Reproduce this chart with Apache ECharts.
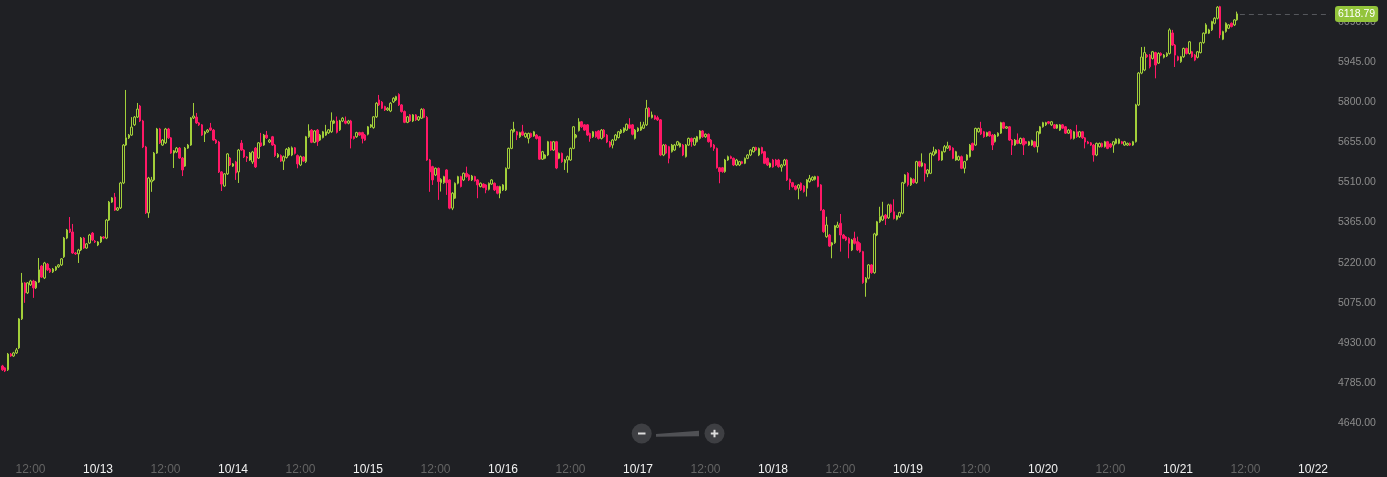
<!DOCTYPE html>
<html>
<head>
<meta charset="utf-8">
<script src="https://cdn.jsdelivr.net/npm/echarts@6/dist/echarts.min.js"></script>
<style>
html,body{margin:0;padding:0;background:#1f2024;}
#c{width:1387px;height:477px;}
</style>
</head>
<body>
<div id="c"></div>
<script>
// ---- data: 30-minute candles [open, close, low, high], first candle 10/12 07:00 (UTC) ----
const firstCandleTime = Date.UTC(2018, 9, 12, 7, 0);
const candleStepMs = 30 * 60 * 1000;
const axisStart = Date.UTC(2018, 9, 12, 6, 35);
const axisEnd = Date.UTC(2018, 9, 22, 3, 1);
const yMin = 4495, yMax = 6169, yStep = 145;
const labelHours = [0, 12];

const candles = [
[4847,4833,4829,4851],[4840,4829,4825,4843],[4833,4890,4829,4894],[4890,4883,4880,4894],[4883,4894,4880,4898],
[4894,4905,4890,4912],[4912,5017,4908,5020],[5017,5147,5013,5183],[5147,5111,5075,5150],[5111,5147,5107,5150],
[5140,5154,5136,5158],[5154,5129,5093,5158],[5129,5150,5125,5154],[5150,5194,5147,5237],[5208,5168,5165,5212],
[5165,5219,5161,5223],[5215,5194,5190,5219],[5197,5187,5183,5201],[5187,5197,5183,5201],[5194,5205,5190,5208],
[5205,5212,5201,5215],[5212,5234,5208,5237],[5241,5309,5237,5313],[5309,5338,5305,5342],[5342,5331,5327,5385],
[5331,5255,5252,5360],[5255,5252,5248,5259],[5252,5266,5219,5270],[5266,5309,5262,5313],[5309,5273,5270,5313],
[5273,5288,5270,5291],[5291,5320,5288,5324],[5327,5302,5298,5331],[5298,5295,5291,5302],[5284,5295,5280,5298],
[5295,5313,5291,5316],[5313,5309,5305,5316],[5309,5374,5305,5378],[5374,5439,5371,5443],[5439,5454,5436,5457],
[5457,5410,5407,5472],[5410,5418,5407,5421],[5418,5508,5414,5512],[5508,5645,5504,5649],[5645,5671,5642,5844],
[5671,5681,5667,5685],[5681,5710,5678,5746],[5718,5746,5714,5750],[5746,5775,5743,5797],[5786,5732,5728,5790],
[5732,5638,5634,5736],[5638,5400,5396,5642],[5400,5526,5382,5530],[5512,5519,5476,5530],[5519,5616,5515,5620],
[5616,5703,5613,5707],[5703,5653,5649,5707],[5645,5663,5642,5667],[5653,5703,5649,5707],[5703,5671,5667,5707],
[5671,5616,5613,5674],[5616,5624,5562,5627],[5620,5634,5616,5638],[5634,5598,5595,5638],[5598,5555,5533,5602],
[5569,5634,5566,5638],[5634,5645,5631,5649],[5645,5743,5642,5746],[5743,5750,5739,5797],[5746,5725,5721,5761],
[5725,5718,5714,5728],[5718,5681,5678,5721],[5685,5692,5656,5696],[5692,5699,5689,5703],[5707,5699,5696,5725],
[5699,5663,5660,5703],[5663,5653,5649,5667],[5656,5548,5544,5660],[5548,5504,5479,5551],[5497,5541,5494,5544],
[5541,5613,5537,5616],[5598,5573,5569,5602],[5569,5577,5566,5580],[5584,5544,5519,5588],[5548,5627,5508,5631],
// 10/14
[5652,5627,5624,5663],[5627,5602,5598,5630],[5602,5598,5584,5605],[5591,5616,5588,5620],[5584,5620,5577,5624],
[5634,5566,5562,5638],[5598,5653,5595,5656],[5653,5642,5638,5689],[5645,5681,5642,5685],[5681,5671,5667,5696],
[5656,5663,5652,5667],[5675,5645,5642,5678],[5645,5607,5602,5649],[5602,5611,5598,5616],[5607,5587,5584,5611],
[5587,5603,5555,5607],[5600,5630,5596,5634],[5609,5634,5605,5638],[5609,5635,5605,5640],[5635,5615,5611,5638],
[5607,5577,5561,5611],[5573,5603,5569,5607],[5602,5587,5584,5605],[5585,5675,5580,5678],[5675,5696,5671,5720],
[5699,5655,5652,5703],[5655,5696,5652,5699],[5699,5657,5642,5703],[5663,5681,5660,5685],[5672,5693,5669,5696],
[5681,5693,5678,5718],[5689,5700,5685,5703],[5693,5732,5689,5763],[5724,5732,5721,5736],[5732,5691,5687,5748],
[5700,5732,5696,5736],[5732,5742,5728,5746],[5732,5724,5720,5748],[5724,5732,5720,5736],[5732,5669,5633,5736],
[5675,5669,5665,5678],[5675,5690,5671,5693],[5690,5681,5678,5693],[5690,5669,5651,5693],[5681,5663,5660,5685],
[5684,5711,5680,5714],[5711,5718,5707,5721],[5708,5747,5704,5750],[5747,5796,5743,5800],[5808,5790,5786,5826],
[5800,5778,5775,5804],[5784,5772,5768,5787],[5772,5778,5768,5782],[5768,5796,5764,5800],[5801,5814,5797,5818],
[5808,5820,5804,5823],[5828,5790,5786,5832],[5790,5766,5762,5793],[5766,5727,5724,5770],[5727,5747,5724,5750],
[5754,5732,5728,5757],[5732,5754,5728,5757],[5754,5736,5732,5757],[5736,5747,5732,5750],
// 10/15
[5742,5774,5739,5778],[5774,5745,5742,5778],[5745,5591,5588,5750],[5591,5548,5476,5595],[5567,5519,5501,5570],
[5537,5561,5533,5564],[5561,5513,5447,5564],[5509,5521,5477,5525],[5509,5531,5505,5534],[5555,5509,5465,5558],
[5519,5417,5413,5522],[5417,5471,5410,5475],[5453,5507,5450,5510],[5507,5531,5503,5534],[5531,5495,5492,5534],
[5519,5543,5515,5546],[5543,5531,5527,5567],[5537,5519,5515,5540],[5519,5533,5515,5537],[5531,5516,5513,5534],
[5519,5501,5453,5522],[5495,5507,5492,5510],[5504,5492,5489,5507],[5501,5483,5471,5504],[5485,5507,5481,5510],
[5504,5519,5501,5522],[5507,5483,5479,5510],[5495,5471,5467,5498],[5471,5495,5453,5498],[5483,5501,5479,5504],
[5483,5561,5479,5564],[5561,5633,5558,5636],[5633,5699,5630,5703],[5694,5703,5690,5729],[5693,5681,5663,5696],
[5675,5690,5671,5693],[5693,5681,5678,5718],[5675,5687,5671,5690],[5669,5687,5651,5690],[5687,5675,5671,5690],
[5678,5693,5675,5696],[5681,5669,5665,5685],[5675,5594,5591,5678],[5594,5621,5591,5624],[5597,5609,5594,5612],
[5609,5657,5605,5660],[5657,5627,5624,5660],[5627,5657,5624,5660],[5657,5562,5558,5660],[5597,5615,5594,5618],
[5615,5585,5581,5618],[5581,5591,5555,5595],[5591,5603,5545,5607],[5591,5633,5588,5636],[5633,5711,5630,5714],
[5673,5681,5669,5685],[5697,5729,5694,5742],[5729,5711,5707,5732],[5718,5699,5696,5721],[5718,5681,5678,5721],
[5687,5669,5657,5690],[5675,5693,5671,5696],[5693,5675,5671,5696],
// 10/16 - 10/17
[5696,5669,5665,5699],[5669,5699,5665,5703],[5699,5675,5671,5703],[5681,5656,5652,5685],[5656,5639,5636,5660],
[5645,5663,5633,5667],[5663,5681,5660,5685],[5672,5693,5669,5696],[5689,5699,5685,5703],[5693,5706,5689,5709],
[5699,5720,5696,5723],[5718,5706,5703,5742],[5718,5684,5680,5721],[5669,5699,5665,5703],[5696,5706,5692,5709],
[5699,5711,5696,5729],[5706,5718,5703,5729],[5718,5778,5714,5808],[5778,5748,5745,5782],[5744,5754,5741,5766],
[5751,5739,5736,5754],[5744,5736,5732,5751],[5736,5609,5605,5739],[5609,5645,5605,5649],[5645,5616,5612,5649],
[5639,5597,5579,5642],[5621,5645,5618,5649],[5627,5645,5624,5649],[5645,5657,5642,5660],[5639,5651,5636,5654],
[5645,5609,5605,5649],[5603,5645,5600,5649],[5645,5669,5642,5672],[5669,5657,5639,5672],[5645,5669,5642,5672],
[5657,5675,5654,5678],[5669,5696,5665,5699],[5696,5675,5671,5699],[5675,5684,5671,5687],[5684,5657,5654,5687],
[5663,5639,5636,5667],[5645,5633,5624,5649],[5633,5563,5560,5636],[5563,5549,5507,5566],[5563,5549,5545,5566],
[5549,5591,5545,5595],[5591,5603,5588,5607],[5603,5597,5594,5607],[5597,5573,5569,5600],[5573,5591,5569,5595],
[5573,5585,5569,5588],[5585,5579,5576,5588],[5579,5597,5576,5600],[5597,5609,5594,5612],[5609,5627,5605,5630],
[5621,5636,5618,5639],[5636,5627,5624,5639],[5609,5633,5605,5636],[5636,5616,5612,5639],[5621,5579,5576,5624],
[5597,5573,5569,5600],[5566,5579,5563,5582],[5591,5566,5563,5595],[5591,5573,5569,5595],
// 10/18
[5591,5567,5563,5595],[5565,5573,5549,5577],[5573,5591,5569,5595],[5591,5519,5515,5595],[5521,5509,5483,5524],
[5509,5495,5491,5512],[5497,5485,5481,5500],[5489,5501,5449,5504],[5507,5483,5479,5510],[5497,5477,5473,5500],
[5489,5519,5459,5522],[5513,5525,5509,5537],[5519,5529,5515,5532],[5521,5531,5517,5534],[5531,5495,5492,5534],
[5501,5410,5407,5504],[5410,5332,5328,5414],[5314,5356,5310,5386],[5320,5280,5277,5324],[5284,5292,5236,5295],
[5292,5353,5288,5356],[5348,5356,5345,5368],[5362,5320,5260,5396],[5320,5308,5305,5324],[5313,5302,5298,5316],
[5308,5290,5236,5312],[5266,5302,5262,5306],[5308,5290,5286,5332],[5296,5266,5262,5314],[5290,5260,5256,5294],
[5260,5148,5144,5263],[5148,5164,5097,5168],[5164,5212,5160,5215],[5212,5184,5180,5215],[5184,5324,5180,5328],
[5320,5368,5316,5371],[5368,5386,5364,5422],[5374,5389,5371,5440],[5392,5380,5356,5396],[5382,5429,5378,5433],
[5429,5404,5400,5433],[5404,5380,5376,5449],[5377,5389,5373,5392],[5386,5401,5382,5404],[5399,5509,5395,5512],
[5509,5537,5505,5540],[5543,5501,5495,5547],[5501,5525,5497,5528],[5521,5509,5505,5525],[5509,5585,5505,5588],
[5585,5569,5565,5588],[5569,5581,5565,5615],[5577,5543,5513,5580],[5541,5555,5529,5558],[5543,5615,5540,5618],
[5609,5621,5605,5639],[5616,5627,5612,5630],[5627,5591,5588,5630],[5591,5621,5588,5624],[5621,5639,5618,5645],
[5634,5642,5631,5657],[5642,5627,5624,5645],[5634,5597,5594,5637],[5591,5621,5588,5624],
// 10/19 - 10/20
[5591,5603,5588,5607],[5603,5561,5558,5607],[5561,5585,5543,5588],[5591,5609,5588,5612],[5603,5645,5600,5649],
[5651,5627,5624,5654],[5645,5705,5642,5708],[5693,5705,5690,5708],[5705,5685,5681,5729],[5693,5675,5671,5696],
[5678,5690,5675,5693],[5693,5678,5675,5696],[5681,5645,5627,5685],[5657,5681,5654,5685],[5678,5688,5675,5691],
[5688,5726,5685,5729],[5726,5706,5703,5729],[5706,5711,5703,5714],[5711,5663,5660,5714],[5663,5645,5609,5667],
[5645,5663,5642,5667],[5663,5651,5648,5687],[5651,5669,5648,5672],[5669,5645,5609,5672],[5657,5651,5648,5660],
[5645,5657,5642,5660],[5645,5661,5642,5664],[5657,5639,5636,5660],[5639,5693,5618,5696],[5687,5711,5684,5714],
[5711,5726,5708,5729],[5718,5726,5714,5729],[5729,5724,5720,5732],[5718,5729,5714,5732],[5718,5706,5703,5721],
[5706,5718,5703,5721],[5699,5718,5696,5721],[5718,5706,5703,5721],[5711,5688,5685,5714],[5688,5699,5685,5703],
[5699,5669,5665,5703],[5669,5693,5665,5696],[5693,5675,5671,5718],[5675,5693,5671,5696],[5693,5671,5667,5696],
[5671,5656,5633,5674],[5656,5651,5648,5660],[5653,5645,5642,5656],[5645,5609,5585,5649],[5609,5651,5605,5654],
[5639,5651,5636,5654],[5651,5639,5636,5654],[5639,5657,5636,5660],[5657,5633,5630,5660],[5649,5638,5634,5652],
[5645,5657,5617,5660],[5651,5666,5648,5669],[5651,5666,5648,5669],[5657,5651,5648,5660],[5645,5657,5642,5660],
[5645,5651,5642,5654],[5651,5645,5642,5654],[5645,5657,5642,5660],
// 10/20 late - 10/21
[5657,5790,5654,5794],[5790,5905,5786,5909],[5905,5963,5901,5999],[5916,5979,5912,6000],[5970,5964,5960,5974],
[5970,5928,5922,5974],[5958,5982,5954,5985],[5979,5934,5886,5982],[5941,5976,5938,5980],[5976,5970,5966,5980],
[5962,5970,5958,5974],[5967,5976,5963,5980],[5976,6061,5972,6067],[6050,6006,6003,6061],[6006,5970,5927,6010],
[5964,5952,5948,5968],[5946,5964,5942,5967],[5964,5994,5960,5997],[5994,5976,5972,5997],[5976,6018,5972,6021],
[5982,5964,5960,5985],[5970,5952,5948,5974],[5962,5982,5958,5985],[5979,6015,5976,6018],[6015,6049,6011,6052],
[6049,6079,6046,6085],[6049,6061,6046,6065],[6061,6091,6057,6094],[6085,6103,6081,6107],[6103,6143,6099,6147],
[6145,6043,6031,6148],[6027,6055,6024,6058],[6055,6085,6051,6088],[6067,6079,6064,6082],[6085,6073,6070,6088],
[6079,6097,6075,6100],[6097,6118.79,6094,6127]
];

const times = candles.map((_, i) => firstCandleTime + i * candleStepMs);
const seriesData = candles.map((c, i) => [times[i], c[0], c[1], c[2], c[3]]);
const lastIdx = candles.length - 1;
const lastClose = candles[lastIdx][1];

const BG = '#1f2024';
const UP = '#a2cf3a';
const DOWN = '#ff1866';
const FONT = 'Liberation Sans, Arial, sans-serif';

function pad(n){ return (n < 10 ? '0' : '') + n; }

const chart = echarts.init(document.getElementById('c'));
chart.setOption({
  backgroundColor: BG,
  animation: false,
  useUTC: true,
  grid: { left: 0, right: 57, top: 0, bottom: 13.6, containLabel: false },
  xAxis: {
    type: 'time',
    min: axisStart,
    max: axisEnd,
    minInterval: 12 * 3600 * 1000,
    maxInterval: 12 * 3600 * 1000,
    axisLine: { show: false },
    axisTick: { show: false },
    splitLine: { show: false },
    axisLabel: {
      margin: 0,
      hideOverlap: false,
      fontFamily: FONT,
      fontSize: 12,
      formatter: function (v) {
        const d = new Date(v);
        const h = d.getUTCHours();
        if (d.getUTCMinutes() !== 0 || labelHours.indexOf(h) < 0) return '';
        if (h === 0) return '{d|' + pad(d.getUTCMonth() + 1) + '/' + pad(d.getUTCDate()) + '}';
        return '{t|' + pad(h) + ':00}';
      },
      rich: {
        d: { color: '#f2f2f2', fontSize: 12, fontFamily: FONT },
        t: { color: '#646464', fontSize: 12, fontFamily: FONT }
      }
    }
  },
  yAxis: {
    type: 'value',
    position: 'right',
    min: yMin,
    max: yMax,
    interval: yStep,
    axisLine: { show: false },
    axisTick: { show: false },
    splitLine: { show: false },
    axisLabel: {
      color: '#8c8c8c',
      fontSize: 10.5,
      fontFamily: FONT,
      margin: 8,
      showMinLabel: false,
      showMaxLabel: false,
      formatter: function (v) { return v.toFixed(2); }
    }
  },
  series: [{
    type: 'candlestick',
    data: seriesData,
    barWidth: 2,
    itemStyle: {
      color: BG,
      color0: DOWN,
      borderColor: UP,
      borderColor0: DOWN,
      borderWidth: 1
    },
    markLine: {
      silent: true,
      symbol: ['none', 'none'],
      animation: false,
      lineStyle: { color: '#55575c', type: [5, 4], width: 1 },
      label: {
        show: true,
        position: 'end',
        distance: 5,
        formatter: lastClose.toFixed(2),
        color: '#ffffff',
        fontSize: 10.5,
        fontFamily: FONT,
        backgroundColor: '#93c43b',
        padding: [3, 3, 2, 3],
        borderRadius: 3
      },
      data: [[
        { coord: [times[lastIdx] + candleStepMs, lastClose] },
        { coord: [axisEnd, lastClose] }
      ]]
    }
  }],
  graphic: [
    { type: 'polygon', shape: { points: [[656, 434], [699, 430.7], [699, 436.3], [656, 436.7]] }, style: { fill: '#505155' }, z: 10 },
    { type: 'circle', shape: { cx: 641.7, cy: 433.5, r: 10 }, style: { fill: '#3e3f43' }, z: 10 },
    { type: 'circle', shape: { cx: 714.5, cy: 433.5, r: 10 }, style: { fill: '#3e3f43' }, z: 10 },
    { type: 'rect', shape: { x: 638, y: 432.5, width: 7.5, height: 2 }, style: { fill: '#dcdcdc' }, z: 11 },
    { type: 'rect', shape: { x: 710.8, y: 432.5, width: 7.5, height: 2 }, style: { fill: '#dcdcdc' }, z: 11 },
    { type: 'rect', shape: { x: 713.5, y: 429.8, width: 2, height: 7.5 }, style: { fill: '#dcdcdc' }, z: 11 }
  ]
});
</script>
</body>
</html>
